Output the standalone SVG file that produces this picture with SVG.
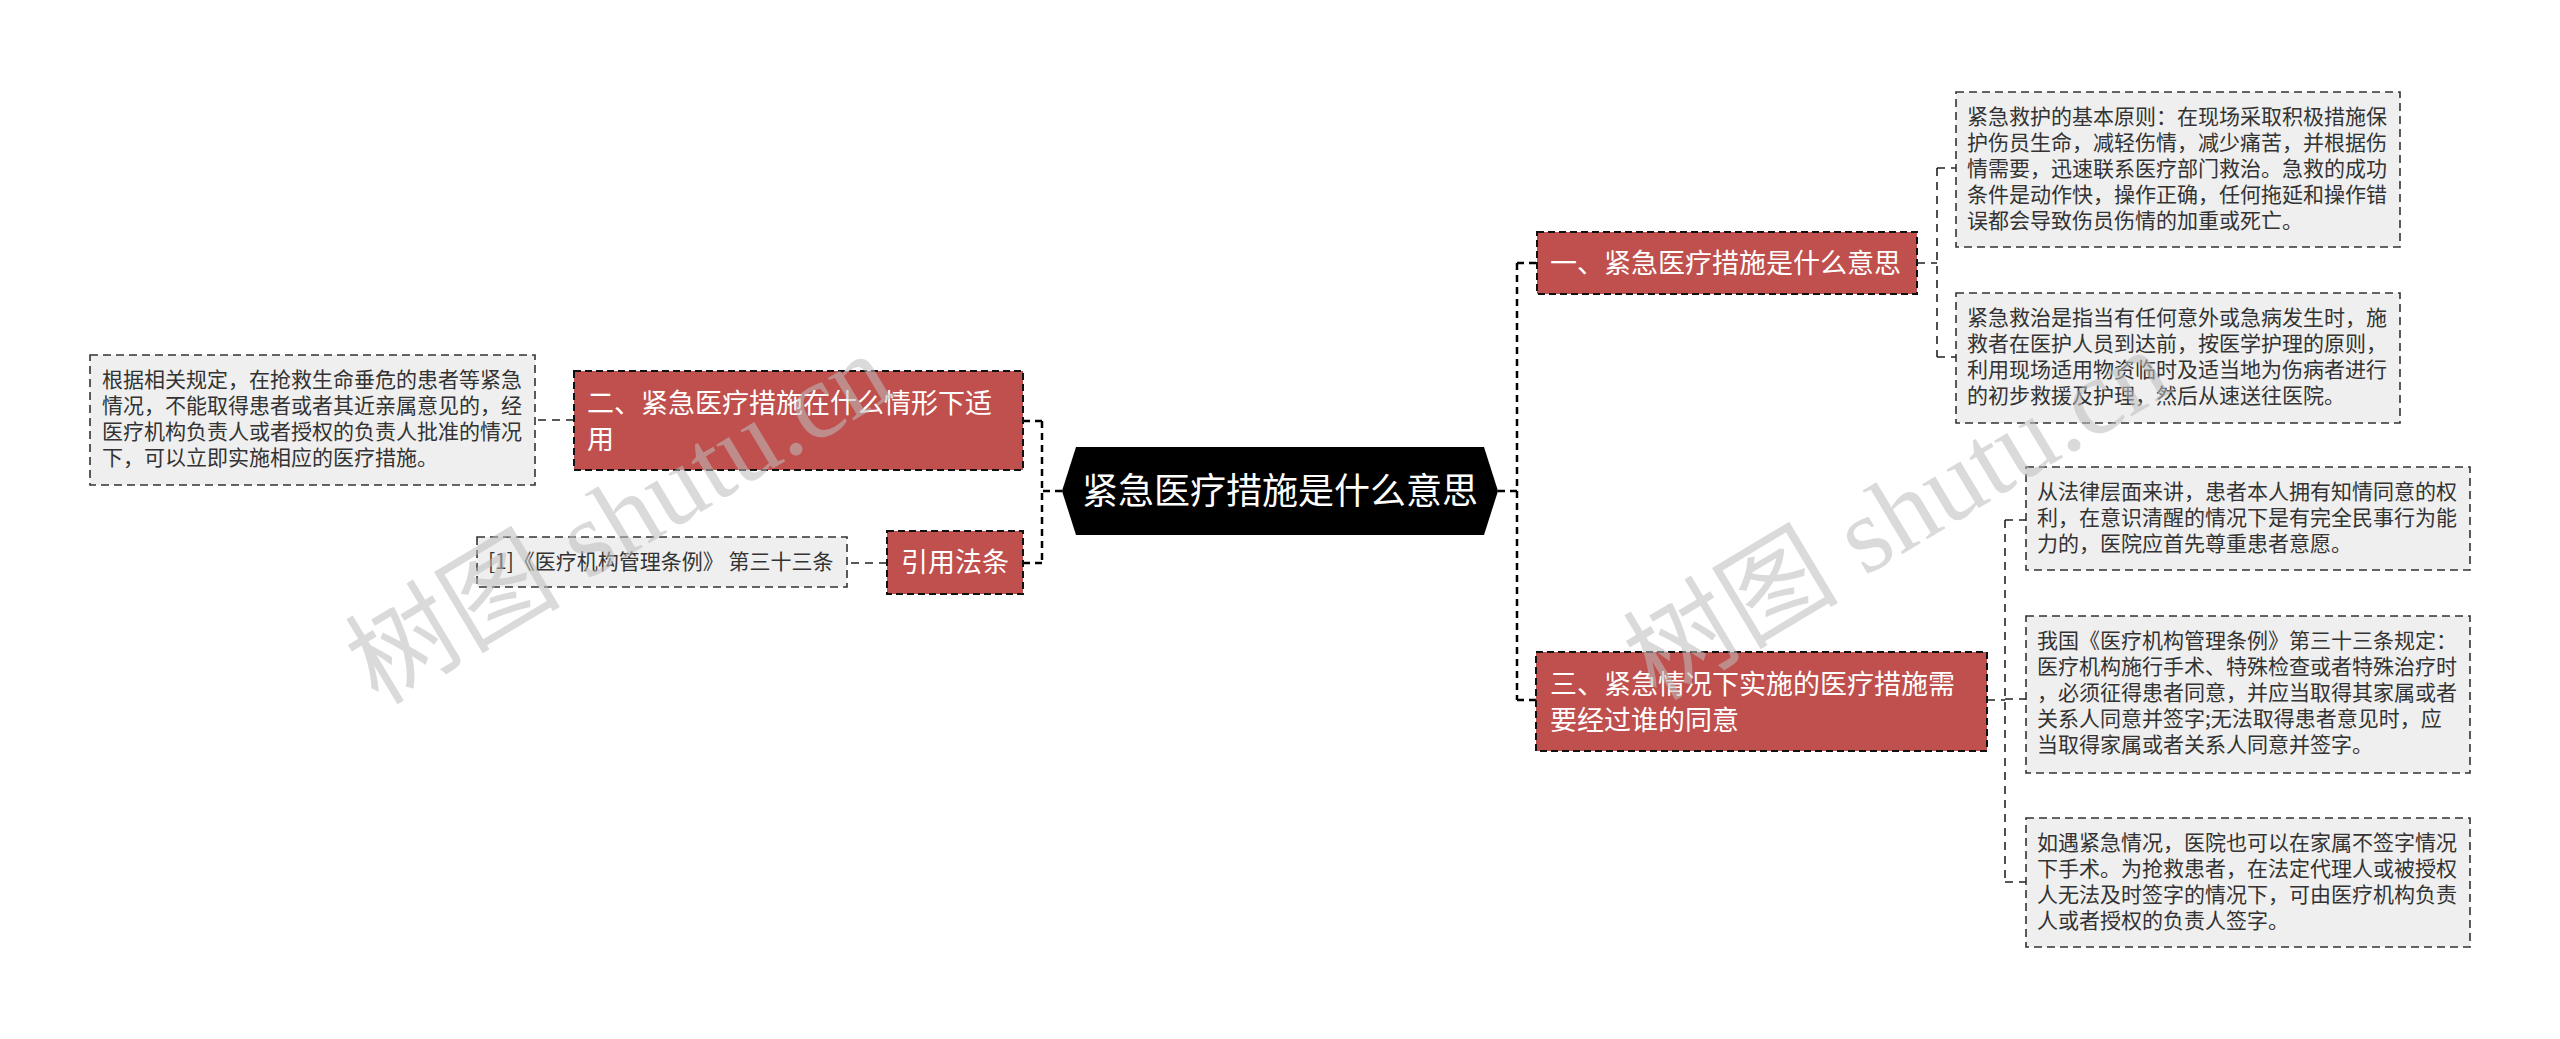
<svg xmlns="http://www.w3.org/2000/svg" width="2560" height="1039" viewBox="0 0 2560 1039">
<style>
.conn{fill:none;stroke:#000;stroke-width:2.5;stroke-dasharray:7 5}
.conn2{fill:none;stroke:#222;stroke-width:1.6;stroke-dasharray:8 6}
.node{fill:#c0504d;stroke:#111;stroke-width:2;stroke-dasharray:7 4}
.leaf{fill:#efefef;stroke:#333;stroke-width:1.6;stroke-dasharray:8 5}
.nt{font-family:"Noto Sans CJK SC","Noto Sans",sans-serif;font-size:27px;fill:#fff}
.lt{font-family:"Noto Sans CJK SC","Noto Sans",sans-serif;font-size:21px;fill:#333}
.wm{font-family:"Liberation Serif","Noto Sans CJK SC",serif;font-size:108px;fill:#bdbdbd;opacity:0.55}
</style>
<rect width="2560" height="1039" fill="#fff"/>
<g id="connectors">
<path class="conn" d="M1062,491 H1042 M1042,421 V563 M1042,421 H1023 M1042,563 H1023"/>
<path class="conn" d="M1498,491 H1517 M1517,263 V700 M1517,263 H1537 M1517,700 H1536"/>
<path class="conn2" d="M1917,263 H1937 M1937,168 V357 M1937,168 H1956 M1937,357 H1956"/>
<path class="conn2" d="M1987,700 H2005 M2005,520 V882 M2005,520 H2026 M2005,699 H2026 M2005,882 H2026"/>
<path class="conn2" d="M574,420 H535"/>
<path class="conn2" d="M887,563 H847"/>
</g>
<g id="root">
<polygon points="1062,491 1076,447 1484,447 1498,491 1484,535 1076,535" fill="#000"/>
<text x="1280" y="504" text-anchor="middle" font-family="Noto Sans CJK SC,Noto Sans,sans-serif" font-size="36" fill="#fff">紧急医疗措施是什么意思</text>
</g>
<g id="node1">
<rect class="node" x="1537" y="232" width="380" height="62"/>
<text class="nt" x="1550" y="273">一、紧急医疗措施是什么意思</text>
</g>
<g id="leaf1a">
<rect class="leaf" x="1956" y="92" width="444" height="155"/>
<text class="lt"><tspan x="1967" y="124">紧急救护的基本原则：在现场采取积极措施保</tspan><tspan x="1967" y="150">护伤员生命，减轻伤情，减少痛苦，并根据伤</tspan><tspan x="1967" y="176">情需要，迅速联系医疗部门救治。急救的成功</tspan><tspan x="1967" y="202">条件是动作快，操作正确，任何拖延和操作错</tspan><tspan x="1967" y="228">误都会导致伤员伤情的加重或死亡。</tspan></text>
</g>
<g id="leaf1b">
<rect class="leaf" x="1956" y="293" width="444" height="130"/>
<text class="lt"><tspan x="1967" y="325">紧急救治是指当有任何意外或急病发生时，施</tspan><tspan x="1967" y="351">救者在医护人员到达前，按医学护理的原则，</tspan><tspan x="1967" y="377">利用现场适用物资临时及适当地为伤病者进行</tspan><tspan x="1967" y="403">的初步救援及护理，然后从速送往医院。</tspan></text>
</g>
<g id="node3">
<rect class="node" x="1536" y="652" width="451" height="99"/>
<text class="nt"><tspan x="1550" y="694">三、紧急情况下实施的医疗措施需</tspan><tspan x="1550" y="730">要经过谁的同意</tspan></text>
</g>
<g id="leaf3a">
<rect class="leaf" x="2026" y="467" width="444" height="103"/>
<text class="lt"><tspan x="2037" y="499">从法律层面来讲，患者本人拥有知情同意的权</tspan><tspan x="2037" y="525">利，在意识清醒的情况下是有完全民事行为能</tspan><tspan x="2037" y="551">力的，医院应首先尊重患者意愿。</tspan></text>
</g>
<g id="leaf3b">
<rect class="leaf" x="2026" y="616" width="444" height="157"/>
<text class="lt"><tspan x="2037" y="648">我国《医疗机构管理条例》第三十三条规定：</tspan><tspan x="2037" y="674">医疗机构施行手术、特殊检查或者特殊治疗时</tspan><tspan x="2037" y="700">，必须征得患者同意，并应当取得其家属或者</tspan><tspan x="2037" y="726">关系人同意并签字;无法取得患者意见时，应</tspan><tspan x="2037" y="752">当取得家属或者关系人同意并签字。</tspan></text>
</g>
<g id="leaf3c">
<rect class="leaf" x="2026" y="818" width="444" height="129"/>
<text class="lt"><tspan x="2037" y="850">如遇紧急情况，医院也可以在家属不签字情况</tspan><tspan x="2037" y="876">下手术。为抢救患者，在法定代理人或被授权</tspan><tspan x="2037" y="902">人无法及时签字的情况下，可由医疗机构负责</tspan><tspan x="2037" y="928">人或者授权的负责人签字。</tspan></text>
</g>
<g id="node2">
<rect class="node" x="574" y="371" width="449" height="99"/>
<text class="nt"><tspan x="587" y="413">二、紧急医疗措施在什么情形下适</tspan><tspan x="587" y="449">用</tspan></text>
</g>
<g id="leaf2a">
<rect class="leaf" x="90" y="355" width="445" height="130"/>
<text class="lt"><tspan x="102" y="387">根据相关规定，在抢救生命垂危的患者等紧急</tspan><tspan x="102" y="413">情况，不能取得患者或者其近亲属意见的，经</tspan><tspan x="102" y="439">医疗机构负责人或者授权的负责人批准的情况</tspan><tspan x="102" y="465">下，可以立即实施相应的医疗措施。</tspan></text>
</g>
<g id="node4">
<rect class="node" x="887" y="531" width="136" height="63"/>
<text class="nt" x="955" y="572" text-anchor="middle">引用法条</text>
</g>
<g id="leaf4a">
<rect class="leaf" x="477" y="537" width="370" height="50"/>
<text class="lt" x="488" y="569">[1]《医疗机构管理条例》 第三十三条</text>
</g>
<g id="watermarks">
<text class="wm" transform="translate(378,706) rotate(-31)">树图 shutu.cn</text>
<text class="wm" transform="translate(1656,702) rotate(-31)">树图 shutu.cn</text>
</g>
</svg>
